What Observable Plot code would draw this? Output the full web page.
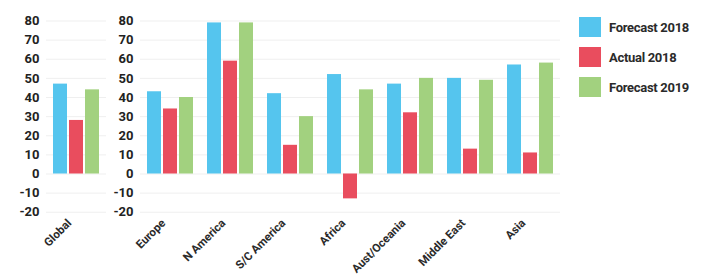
<!DOCTYPE html>
<html>
<head>
<meta charset="utf-8">
<script src="https://cdn.jsdelivr.net/npm/d3@7"></script>
<script src="https://cdn.jsdelivr.net/npm/@observablehq/plot@0.6"></script>
<style>
  html, body { margin: 0; padding: 0; background: #fff; }
  #wrap { position: relative; width: 708px; height: 279px; font-family: Roboto, "Open Sans", sans-serif; }
  #left { position: absolute; left: 0; top: 0; }
  #right { position: absolute; left: 110px; top: 0; }
  #legend { position: absolute; left: 579px; top: 17px; }
  .item { display: flex; align-items: center; height: 20px; margin-bottom: 10px; }
  .sw { width: 22px; height: 20px; margin-right: 8px; }
  .lab { font-size: 13px; font-weight: 700; color: #2a2a2a; letter-spacing: -0.3px; }
</style>
</head>
<body>
<div id="wrap">
  <div id="left"></div>
  <div id="right"></div>
  <div id="legend"></div>
</div>
<script>
const series = ["Forecast 2018", "Actual 2018", "Forecast 2019"];
const colors = ["#55c5ee", "#e94d5e", "#a2d17f"];

const globalCategory = ["Global"];
const globalValues = [47, 28, 44];

const regions = ["Europe", "N America", "S/C America", "Africa", "Aust/Oceania", "Middle East", "Asia"];
const forecast2018 = [43, 79, 42, 52, 47, 50, 57];
const actual2018 = [34, 59, 15, -13, 32, 13, 11];
const forecast2019 = [40, 79, 30, 44, 50, 49, 58];

const yTicks = [-20, -10, 0, 10, 20, 30, 40, 50, 60, 70, 80];

const globalData = series.map((s, i) => ({cat: "Global", series: s, value: globalValues[i]}));
const regionData = [];
regions.forEach((r, j) => {
  regionData.push({cat: r, series: series[0], value: forecast2018[j]});
  regionData.push({cat: r, series: series[1], value: actual2018[j]});
  regionData.push({cat: r, series: series[2], value: forecast2019[j]});
});

function makeChart(data, domain, width, marginLeft) {
  return Plot.plot({
    width, height: 279,
    marginTop: 20.5, marginBottom: 67.25, marginLeft, marginRight: 0,
    style: {fontFamily: "Roboto, sans-serif", background: "transparent"},
    fx: {domain, padding: 0, label: null},
    x: {domain: series, paddingInner: 0.125, paddingOuter: 0.4375, axis: null},
    y: {domain: [-20, 80], ticks: yTicks, label: null},
    color: {domain: series, range: colors},
    marks: [
      Plot.gridY(yTicks, {stroke: "#efefef", strokeOpacity: 1}),
      Plot.barY(data, {fx: "cat", x: "series", y: "value", fill: "series"}),
      Plot.axisY(yTicks, {tickSize: 0, tickPadding: 7, tickFormat: d => String(d), fontSize: 13, fontWeight: 700, fill: "#222", label: null}),
      Plot.axisFx({anchor: "bottom", tickSize: 0, tickPadding: 6, tickRotate: -45, dx: -7, dy: 3, fontSize: 11.5, fontWeight: 700, fill: "#2a2a2a", label: null, style: {letterSpacing: "-0.3px"}})
    ]
  });
}

document.getElementById("left").appendChild(makeChart(globalData, globalCategory, 106, 46));
document.getElementById("right").appendChild(makeChart(regionData, regions, 450, 30));

const legend = document.getElementById("legend");
series.forEach((s, i) => {
  const it = document.createElement("div");
  it.className = "item";
  it.innerHTML = `<div class="sw" style="background:${colors[i]}"></div><span class="lab">${s}</span>`;
  legend.appendChild(it);
});
</script>
</body>
</html>
